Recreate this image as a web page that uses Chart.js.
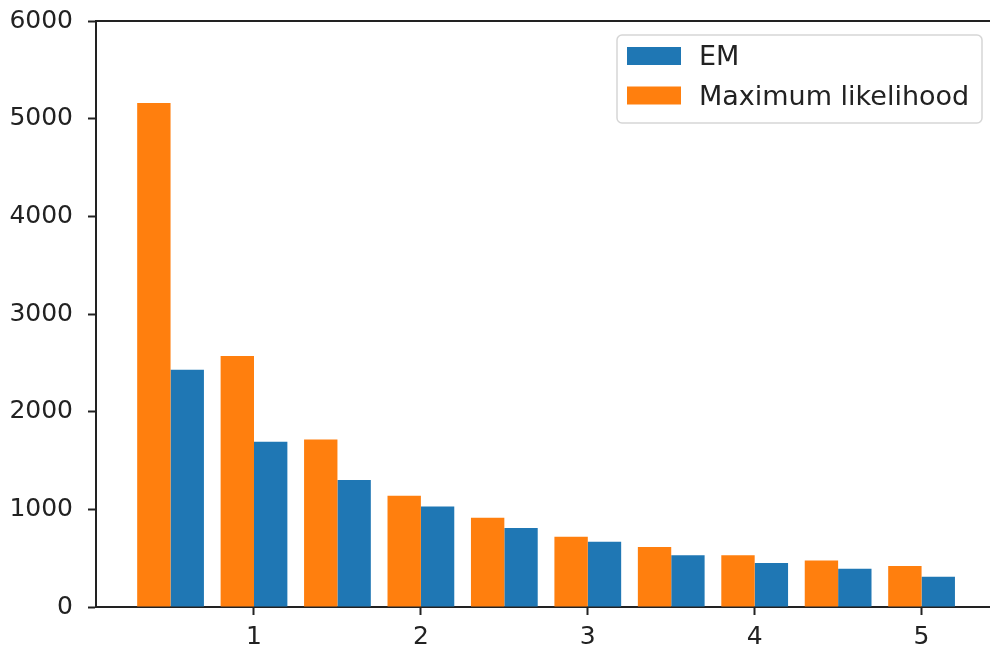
<!DOCTYPE html>
<html>
<head>
<meta charset="utf-8">
<script src="https://cdn.jsdelivr.net/npm/chart.js@4.4.1/dist/chart.umd.min.js"></script>
<style>
  html, body { margin: 0; padding: 0; background: #fff; }
  #chart { display: block; }
</style>
</head>
<body>
<canvas id="chart" width="990" height="656"></canvas>
<script>
// bin centres of the histogram and the two series
const binCenters = [0.5, 1.0, 1.5, 2.0, 2.5, 3.0, 3.5, 4.0, 4.5, 5.0];
const emValues = [2430, 1692, 1300, 1030, 808, 668, 530, 451, 392, 310];
const mlValues = [5160, 2570, 1715, 1138, 915, 720, 615, 530, 477, 420];
const xTicks = [1, 2, 3, 4, 5];
const yTicks = [0, 1000, 2000, 3000, 4000, 5000, 6000];

const axisColor = '#222';
const textColor = '#222';
const fontFamily = "'DejaVu Sans', sans-serif";

const toPoints = (vals) => vals.map((v, i) => ({ x: binCenters[i], y: v }));

// matplotlib-like top spine and the legend box inside the axes
const framePlugin = {
  id: 'frame',
  afterDraw(chart) {
    const ctx = chart.ctx;
    const area = chart.chartArea;
    ctx.save();
    ctx.strokeStyle = axisColor;
    ctx.lineWidth = 2;
    ctx.beginPath();
    ctx.moveTo(area.left - 1, area.top);
    ctx.lineTo(area.right, area.top);
    ctx.stroke();

    // legend
    const bx = 617, by = 35, bw = 365, bh = 88;
    ctx.fillStyle = 'rgba(255,255,255,0.8)';
    ctx.strokeStyle = '#d6d6d6';
    ctx.lineWidth = 1.5;
    ctx.beginPath();
    ctx.roundRect(bx, by, bw, bh, 5);
    ctx.fill();
    ctx.stroke();

    const items = chart.data.datasets.slice().reverse();
    ctx.font = '27px ' + fontFamily;
    ctx.textBaseline = 'middle';
    ctx.textAlign = 'left';
    items.forEach((ds, i) => {
      const cy = 56 + i * 39.5;
      ctx.fillStyle = ds.backgroundColor;
      ctx.fillRect(627, cy - 9, 54, 18);
      ctx.fillStyle = textColor;
      ctx.fillText(ds.label, 699, cy + 2);
    });
    ctx.restore();
  }
};

new Chart(document.getElementById('chart').getContext('2d'), {
  type: 'bar',
  data: {
    datasets: [
      {
        label: 'Maximum likelihood',
        data: toPoints(mlValues),
        backgroundColor: '#ff7f0e',
        categoryPercentage: 0.8,
        barPercentage: 1.0
      },
      {
        label: 'EM',
        data: toPoints(emValues),
        backgroundColor: '#1f77b4',
        categoryPercentage: 0.8,
        barPercentage: 1.0
      }
    ]
  },
  options: {
    responsive: false,
    animation: false,
    layout: { padding: 0 },
    plugins: {
      legend: { display: false },
      tooltip: { enabled: false }
    },
    scales: {
      x: {
        type: 'linear',
        min: 0.0533,
        max: 5.41,
        offset: false,
        afterBuildTicks: (scale) => { scale.ticks = xTicks.map(v => ({ value: v })); },
        afterFit: (scale) => { scale.height = 49; },
        grid: {
          offset: false,
          drawOnChartArea: false,
          drawTicks: true,
          tickLength: 8,
          tickWidth: 2,
          tickColor: axisColor
        },
        border: { display: true, color: axisColor, width: 2 },
        ticks: {
          color: textColor,
          padding: 7,
          maxRotation: 0,
          font: { family: fontFamily, size: 25 },
          callback: (v) => String(v)
        }
      },
      y: {
        min: 0,
        max: 6000,
        afterBuildTicks: (scale) => { scale.ticks = yTicks.map(v => ({ value: v })); },
        afterFit: (scale) => {
          scale.width = 96;
          scale.paddingTop = 21;
          scale.paddingBottom = 0;
        },
        grid: {
          drawOnChartArea: false,
          drawTicks: true,
          tickLength: 8,
          tickWidth: 2,
          tickColor: axisColor
        },
        border: { display: true, color: axisColor, width: 2 },
        ticks: {
          color: textColor,
          padding: 15,
          font: { family: fontFamily, size: 25 },
          callback: (v) => String(v)
        }
      }
    }
  },
  plugins: [framePlugin]
});
</script>
</body>
</html>
